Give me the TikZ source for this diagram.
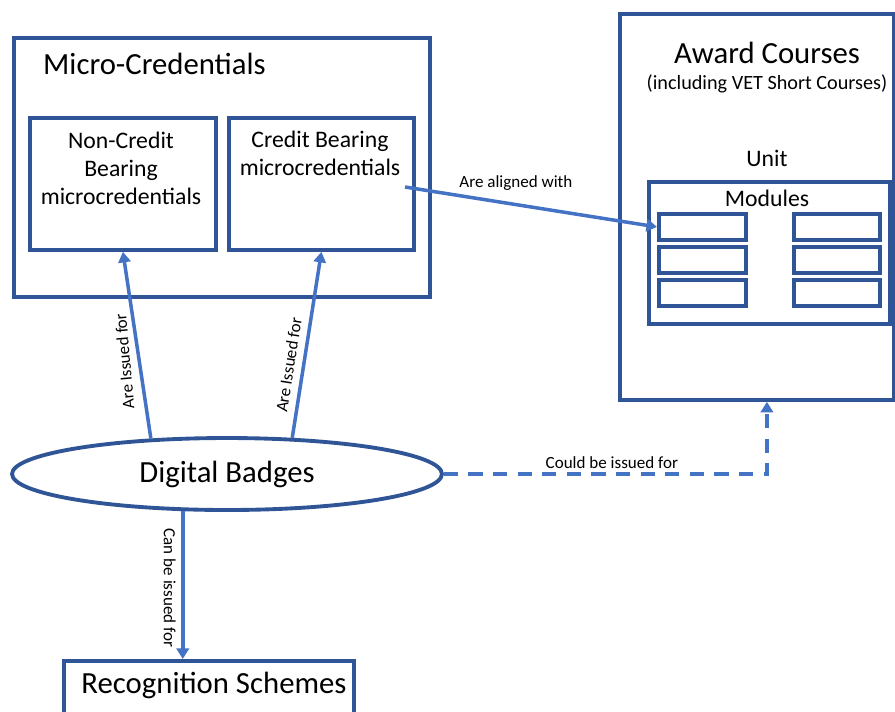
\documentclass[tikz,border=0pt]{standalone}
\usepackage{fontspec}
\setmainfont{Carlito}
\usepackage{xcolor}
\usetikzlibrary{shapes.geometric,arrows.meta}
\definecolor{boxblue}{HTML}{2F5597}
\definecolor{linkblue}{HTML}{4472C4}
\tikzset{
	box/.style={draw=boxblue,line width=2.2pt,anchor=north west,inner sep=0pt},
	link/.style={draw=linkblue,line width=2pt,-{Triangle[length=6pt,width=7pt]}},
	tag/.style={font=\fontsize{9.7}{11}\selectfont,inner sep=2pt},
	big/.style={font=\fontsize{17.5}{20}\selectfont},
	mid/.style={font=\fontsize{13.5}{16}\selectfont,align=center}
}

\begin{document}
\begin{tikzpicture}[x=0.02cm,y=-0.02cm]
	\clip (0,0) rectangle (895,711);

	\node[box,minimum width=8.32cm,minimum height=5.18cm] (micro) at (12,36) {};
	\node[big,anchor=west] (microtitle) at (37,64) {Micro-Credentials};
	\node[box,minimum width=3.72cm,minimum height=2.64cm] (noncredit) at (28,116) {};
	\node[mid] (noncredittext) at (121,168) {Non-Credit\\Bearing\\microcredentials};
	\node[box,minimum width=3.70cm,minimum height=2.64cm] (credit) at (227,116) {};
	\node[mid] (credittext) at (320,153) {Credit Bearing\\microcredentials};

	\node[box,minimum width=5.48cm,minimum height=7.72cm] (award) at (618,12) {};
	\node[big] (awardtitle) at (767,53) {Award Courses};
	\node[font=\fontsize{11.5}{13}\selectfont] (awardsub) at (767,84) {(including VET Short Courses)};
	\node[font=\fontsize{13.5}{15}\selectfont] (unittitle) at (767,158) {Unit};
	\node[box,minimum width=4.82cm,minimum height=2.84cm] (unit) at (647,180) {};
	\node[font=\fontsize{13.5}{15}\selectfont] (modtitle) at (767,198) {Modules};
	\node[box,minimum width=1.74cm,minimum height=0.52cm] (modA) at (657,212) {};
	\node[box,minimum width=1.74cm,minimum height=0.52cm] (modB) at (657,245) {};
	\node[box,minimum width=1.74cm,minimum height=0.52cm] (modC) at (657,278) {};
	\node[box,minimum width=1.72cm,minimum height=0.52cm] (modD) at (792,212) {};
	\node[box,minimum width=1.72cm,minimum height=0.52cm] (modE) at (792,245) {};
	\node[box,minimum width=1.72cm,minimum height=0.52cm] (modF) at (792,278) {};

	\node[draw=boxblue,line width=2.2pt,ellipse,inner sep=0pt,minimum width=8.6cm,minimum height=1.44cm,font=\fontsize{17.5}{20}\selectfont] (badge) at (227,474) {Digital Badges};

	\node[box,minimum width=5.8cm,minimum height=1.6cm] (recog) at (62,659) {};
	\node[big] (recogtext) at (214,685) {Recognition Schemes};

	\coordinate (alignstart) at (405,187);

	\draw[link] (badge.155) -- (noncredit.south) node[tag,pos=.42,rotate=95,anchor=south,inner sep=4pt] {Are Issued for};
	\draw[link] (badge.29) -- (credit.south) node[tag,pos=.38,sloped,above,inner sep=4pt] {Are Issued for};
	\draw[link] (alignstart) -- (modA.west) node[tag,pos=.44,above=5pt] {Are aligned with};
	\draw[link,dash pattern=on 8pt off 6pt] (badge.east) -| ([xshift=0.2cm]award.south) node[tag,pos=.26,above] {Could be issued for};
	\draw[link] (badge.220) -- (badge.220 |- recog.north) node[tag,pos=.52,rotate=-90,anchor=north,inner sep=3pt] {Can be issued for};
\end{tikzpicture}
\end{document}
